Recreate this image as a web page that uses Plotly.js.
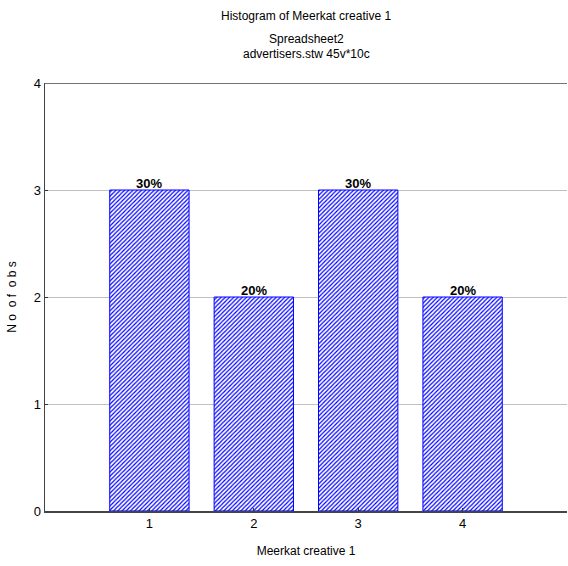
<!DOCTYPE html>
<html>
<head>
<meta charset="utf-8">
<script src="https://cdn.plot.ly/plotly-3.0.1.min.js"></script>
<style>html,body{margin:0;padding:0;background:#fff;}#chart{width:568px;height:566px;}</style>
</head>
<body>
<div id="chart"></div>
<script>
const categories = [1, 2, 3, 4];
const counts = [3, 2, 3, 2];
const percentLabels = ["30%", "20%", "30%", "20%"];
const yTicks = [0, 1, 2, 3, 4];

const FONT = "Liberation Sans Narrow, Arial Narrow, Liberation Sans, Arial, sans-serif";

const trace = {
  type: "bar",
  x: categories,
  y: counts,
  width: 0.76,
  marker: {
    color: "white",
    line: {color: "#0000ff", width: 1},
    pattern: {shape: "/", fgcolor: "#0000ff", bgcolor: "white", size: 3, solidity: 0.4}
  },
  hoverinfo: "skip"
};

const labelAnnotations = categories.map((c, i) => ({
  x: c, y: counts[i], xref: "x", yref: "y",
  text: percentLabels[i], showarrow: false,
  yanchor: "bottom", yshift: -3,
  font: {family: FONT, size: 13, color: "#000", weight: "bold"}
}));

const layout = {
  width: 568, height: 566,
  margin: {l: 45, r: 1, t: 83, b: 55},
  paper_bgcolor: "white", plot_bgcolor: "white",
  font: {family: FONT, size: 12, color: "#000"},
  showlegend: false,
  xaxis: {
    range: [0, 5],
    tickvals: categories,
    ticktext: categories.map(String),
    ticks: "inside", ticklen: 3, tickcolor: "#333",
    showgrid: false, zeroline: false,
    showline: true, linecolor: "#444", linewidth: 1.5,
    tickfont: {family: FONT, size: 13},
    title: {text: "Meerkat creative 1", font: {family: FONT, size: 12}, standoff: 16}
  },
  yaxis: {
    range: [0, 4],
    tickvals: yTicks,
    ticks: "inside", ticklen: 3, tickcolor: "#333",
    showgrid: true, gridcolor: "#c0c0c0", gridwidth: 1,
    zeroline: false,
    showline: true, linecolor: "#444", linewidth: 1.5,
    tickfont: {family: FONT, size: 13},
    title: {text: "N o  o f  o b s", font: {family: FONT, size: 12}, standoff: 14}
  },
  shapes: [
    {type: "line", xref: "paper", yref: "y", x0: 0, x1: 1, y0: 4, y1: 4, line: {color: "#444", width: 1.5}}
  ],
  annotations: labelAnnotations.concat([
    {text: "Histogram of Meerkat creative 1", xref: "paper", yref: "paper", x: 0.5, y: 1, yshift: 76, showarrow: false, font: {family: FONT, size: 12}},
    {text: "Spreadsheet2", xref: "paper", yref: "paper", x: 0.5, y: 1, yshift: 53, showarrow: false, font: {family: FONT, size: 12}},
    {text: "advertisers.stw 45v*10c", xref: "paper", yref: "paper", x: 0.5, y: 1, yshift: 38, showarrow: false, font: {family: FONT, size: 12}}
  ])
};

Plotly.newPlot("chart", [trace], layout, {staticPlot: true, displayModeBar: false});
</script>
</body>
</html>
